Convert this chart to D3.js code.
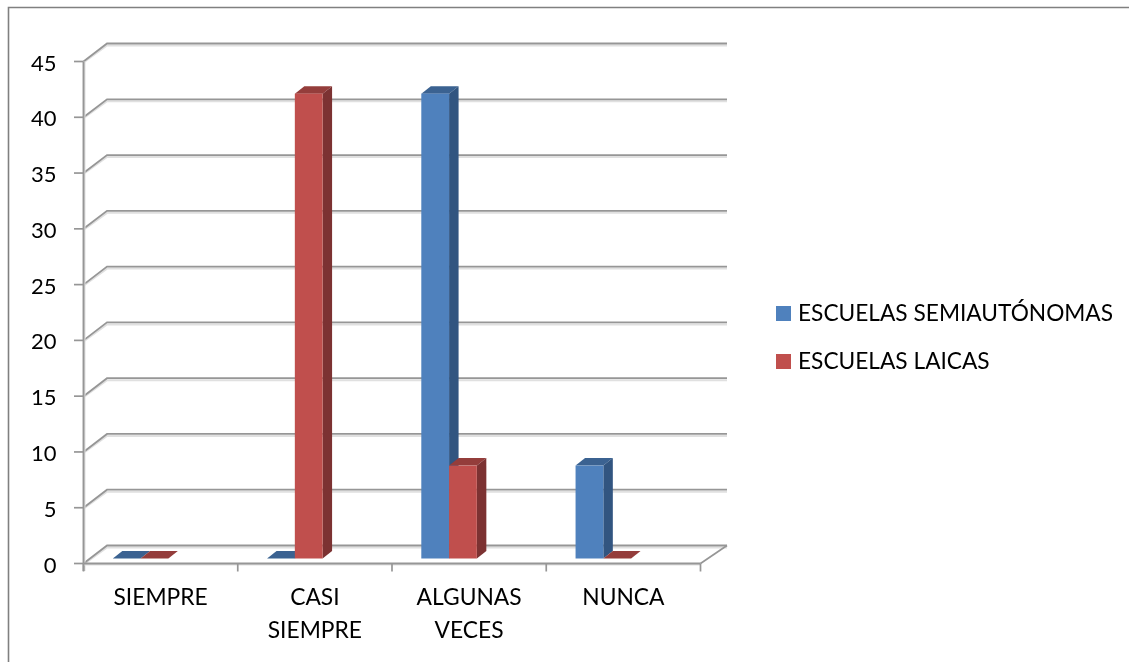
<!DOCTYPE html>
<html><head><meta charset="utf-8">
<script src="https://cdn.jsdelivr.net/npm/d3@7"></script>
<style>html,body{margin:0;padding:0;background:#fff}svg{display:block}text{font-family:Lato,"Open Sans",sans-serif;fill:#000}</style>
</head><body><svg id="c" width="1129" height="662"></svg>
<script>
const categories=["SIEMPRE","CASI SIEMPRE","ALGUNAS VECES","NUNCA"];
const categoryLines=[["SIEMPRE"],["CASI","SIEMPRE"],["ALGUNAS","VECES"],["NUNCA"]];
const seriesNames=["ESCUELAS SEMIAUTÓNOMAS","ESCUELAS LAICAS"];
const semiautonomas=[0,0,41.67,8.33];
const laicas=[0,41.67,8.33,0];
const yTicks=[0,5,10,15,20,25,30,35,40,45];
const colors=["#4f81bd","#c0504d"], tops=["#3a6291","#943c3a"], sides=["#315480","#7c3232"];

const svg=d3.select("#c");
const defs=svg.append("defs");
defs.append("filter").attr("id","soft").attr("x","-5%").attr("y","-5%").attr("width","110%").attr("height","110%")
  .append("feGaussianBlur").attr("stdDeviation",0.55);
const g=svg.append("g").attr("filter","url(#soft)");
const x=d3.scaleBand().domain(categories).range([83.5,700.5]);
const y=d3.scaleLinear().domain([0,45]).range([563.5,61.5]);
const dx=23.5,dy=-18;
const grid="#969696",shade="#e0e0e0";
// frame
g.append("path").attr("d","M8.5,662V7.5H1129").attr("fill","none").attr("stroke","#808080").attr("stroke-width",1.6);
// gridlines
yTicks.forEach(t=>{
  g.append("path").attr("d",`M${83.5},${y(t)+1}L${83.5+dx},${y(t)+dy+2}H${700.5+dx+3}`)
   .attr("fill","none").attr("stroke",shade).attr("stroke-width",2);
  g.append("path").attr("d",`M${83.5},${y(t)}L${83.5+dx},${y(t)+dy}H${700.5+dx+3}`)
   .attr("fill","none").attr("stroke",grid).attr("stroke-width",1.8);
  g.append("line").attr("x1",74).attr("x2",83.5).attr("y1",y(t)).attr("y2",y(t)).attr("stroke",grid).attr("stroke-width",1.7);
  g.append("text").attr("x",56.5).attr("y",y(t)+9).attr("text-anchor","end").attr("font-size",22).text(t);
});
// walls and floor edges
g.append("line").attr("x1",84.5).attr("x2",84.5).attr("y1",y(45)).attr("y2",571).attr("stroke",shade).attr("stroke-width",2);
g.append("line").attr("x1",83.5).attr("x2",83.5).attr("y1",y(45)).attr("y2",571).attr("stroke",grid).attr("stroke-width",1.9);
g.append("line").attr("x1",83.5).attr("x2",700.5).attr("y1",y(0)+1).attr("y2",y(0)+1).attr("stroke",shade).attr("stroke-width",2);
g.append("line").attr("x1",83.5).attr("x2",700.5).attr("y1",y(0)).attr("y2",y(0)).attr("stroke",grid).attr("stroke-width",1.9);
g.append("line").attr("x1",700.5).attr("x2",727).attr("y1",y(0)).attr("y2",y(0)+dy).attr("stroke",grid).attr("stroke-width",1.7);
[...categories.map(c=>x(c)),700.5].forEach(v=>g.append("line").attr("x1",v).attr("x2",v).attr("y1",y(0)).attr("y2",571.5).attr("stroke",grid).attr("stroke-width",1.7));
// bars
const barW=x.bandwidth()*0.18,barStart=x.bandwidth()*0.19,baseY=y(0)-5,depthX=9.5,depthY=-7.5;
const unit=y(0)-y(1);
[semiautonomas,laicas].forEach((vals,s)=>{
  const bars=g.append("g");
  vals.forEach((v,i)=>{
    const x0=x(categories[i])+barStart+s*barW,x1=x0+barW,h=v*unit,yt=baseY-h;
    const b=bars.append("g");
    b.append("path").attr("d",`M${x0},${yt}L${x0+depthX},${yt+depthY}H${x1+depthX}L${x1},${yt}Z`).attr("fill",tops[s]);
    if(v>0){
      b.append("path").attr("d",`M${x1},${yt}L${x1+depthX},${yt+depthY}V${baseY+depthY}L${x1},${baseY}Z`).attr("fill",sides[s]);
      b.append("rect").attr("x",x0).attr("y",yt).attr("width",barW).attr("height",h).attr("fill",colors[s]);
    }
  });
});
// category labels
categories.forEach((c,i)=>{
  categoryLines[i].forEach((l,k)=>g.append("text").attr("x",x(c)+x.bandwidth()/2).attr("y",605+k*33).attr("text-anchor","middle").attr("font-size",22.8).text(l));
});
// legend
seriesNames.forEach((n,i)=>{
  g.append("rect").attr("x",776).attr("y",306+i*48).attr("width",15).attr("height",15).attr("fill",colors[i]);
  g.append("text").attr("x",798).attr("y",321+i*48).attr("font-size",22.7).text(n);
});
</script></body></html>
